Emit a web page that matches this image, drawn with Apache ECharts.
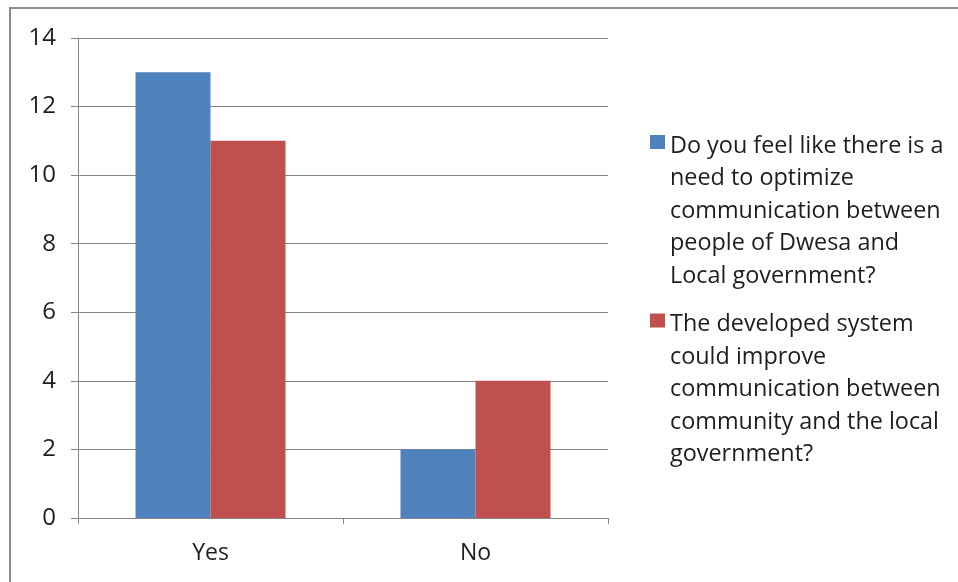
<!DOCTYPE html>
<html>
<head>
<meta charset="utf-8">
<script src="https://cdn.jsdelivr.net/npm/echarts@6/dist/echarts.min.js"></script>
<style>
  html, body { margin: 0; padding: 0; background: #fff; }
  #chart { width: 958px; height: 582px; }
</style>
</head>
<body>
<div id="chart"></div>
<script>
// Survey answers per category
const categories = ['Yes', 'No'];
const seriesNames = [
  'Do you feel like there is a need to optimize communication between people of Dwesa and Local government?',
  'The developed system could improve communication between community and the local government?'
];
// Legend text, wrapped the way it is shown
const legendLines = [
  ['Do you feel like there is a', 'need to optimize', 'communication between', 'people of Dwesa and', 'Local government?'],
  ['The developed system', 'could improve', 'communication between', 'community and the local', 'government?']
];
const needToOptimize = [13, 2];
const systemCouldImprove = [11, 4];
const yTicks = { min: 0, max: 14, interval: 2 };

const FONT = 'Open Sans';
const LINE_H = 32.5;
const blockH = LINE_H * 5;

// square marker beside the first text line; the stretched box keeps the text top-aligned
const iconPath = 'path://M0,10L15,10L15,24L0,24Z M0,' + blockH + 'L0.001,' + blockH + 'L0,' + blockH + 'Z';

const chart = echarts.init(document.getElementById('chart'));
chart.setOption({
  animation: false,
  backgroundColor: '#ffffff',
  graphic: [{
    type: 'rect',
    shape: { x: 10, y: 8, width: 970, height: 600 },
    style: { fill: 'none', stroke: '#8c8c8c', lineWidth: 2 },
    silent: true
  }],
  grid: { left: 78, right: 350, top: 38, bottom: 64, containLabel: false },
  legend: {
    orient: 'vertical',
    left: 645,
    top: 125,
    itemWidth: 15,
    itemHeight: blockH,
    itemGap: 16,
    icon: iconPath,
    data: seriesNames,
    formatter: function (name) {
      return legendLines[seriesNames.indexOf(name)].join('\n');
    },
    textStyle: { fontFamily: FONT, fontSize: 23.4, color: '#1e1e1e', lineHeight: LINE_H }
  },
  xAxis: {
    type: 'category',
    data: categories,
    axisLine: { lineStyle: { color: '#868686', width: 1 } },
    axisTick: { show: true, length: 6, lineStyle: { color: '#868686' } },
    axisLabel: { fontFamily: FONT, fontSize: 23, color: '#1e1e1e', margin: 24 }
  },
  yAxis: {
    type: 'value',
    min: yTicks.min, max: yTicks.max, interval: yTicks.interval,
    axisLine: { show: true, lineStyle: { color: '#868686', width: 1 } },
    axisTick: { show: true, length: 7, lineStyle: { color: '#868686' } },
    splitLine: { lineStyle: { color: '#868686', width: 1 } },
    axisLabel: { fontFamily: FONT, fontSize: 24, color: '#1e1e1e', margin: 22 }
  },
  series: [
    {
      name: seriesNames[0], type: 'bar', data: needToOptimize,
      barWidth: 75, barGap: '0%',
      itemStyle: { color: '#4F81BD' }
    },
    {
      name: seriesNames[1], type: 'bar', data: systemCouldImprove,
      barWidth: 75, barGap: '0%',
      itemStyle: { color: '#C0504D' }
    }
  ]
});
</script>
</body>
</html>
